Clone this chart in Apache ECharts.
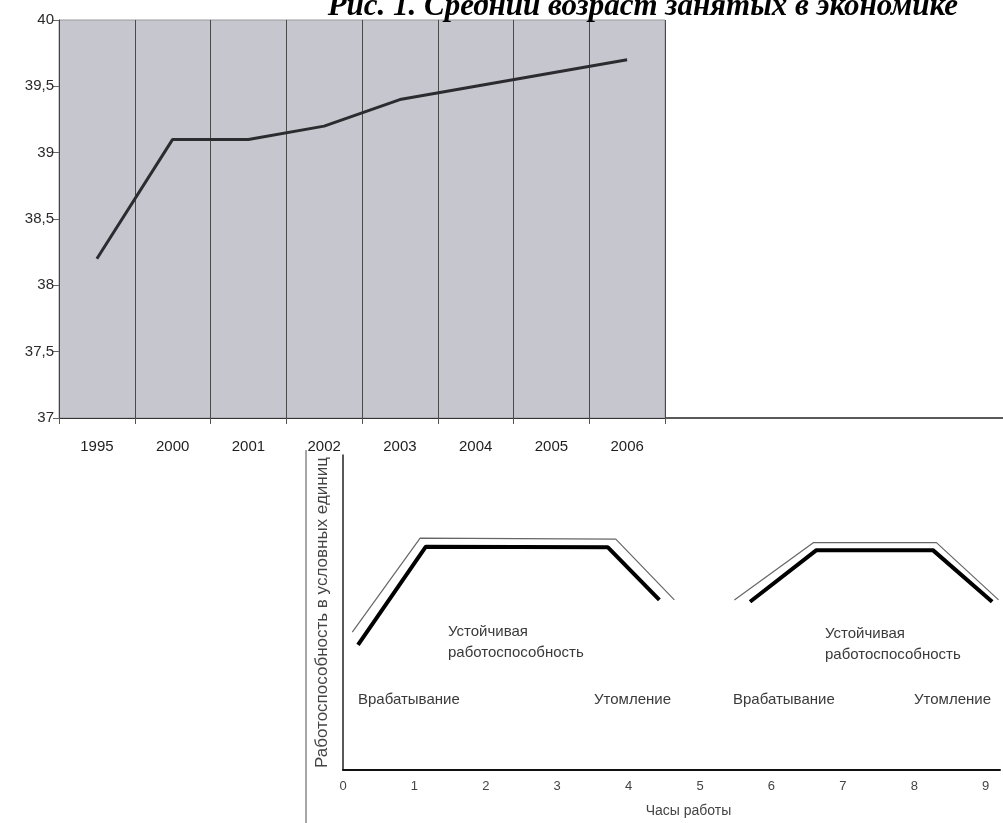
<!DOCTYPE html>
<html><head><meta charset="utf-8">
<script src="https://cdn.jsdelivr.net/npm/echarts@6/dist/echarts.min.js"></script>
<style>html,body{margin:0;padding:0;background:#fff}#c{width:1003px;height:823px}</style>
</head><body><div id="c"></div>
<script>
// ---- data ----
const years = ['1995','2000','2001','2002','2003','2004','2005','2006'];
const avgAge = [38.2, 39.1, 39.1, 39.2, 39.4, 39.5, 39.6, 39.7];
const hourTicks = [0,1,2,3,4,5,6,7,8,9];
const curve1Main   = [[0.21,3.97],[1.16,7.09],[3.71,7.07],[4.43,5.40]];
const curve1Shadow = [[0.13,4.38],[1.08,7.36],[3.82,7.33],[4.64,5.40]];
const curve2Main   = [[5.70,5.34],[6.63,6.98],[8.26,6.98],[9.09,5.34]];
const curve2Shadow = [[5.48,5.40],[6.59,7.22],[8.31,7.22],[9.18,5.40]];
const titleText = 'Рис. 1. Средний возраст занятых в экономике';
const txtStable1 = 'Устойчивая';
const txtStable2 = 'работоспособность';
const txtWarm = 'Врабатывание';
const txtFatigue = 'Утомление';
const yName = 'Работоспособность в условных единиц';
const xName = 'Часы работы';

const chart = echarts.init(document.getElementById('c'));
const sans = '"Liberation Sans", Arial, sans-serif';
const annStyle = {fontFamily: sans, fontSize: 15, fill: '#3a3a3a'};
function ann(text, x, y) {
  return {type: 'text', left: x, top: y, style: Object.assign({text: text}, annStyle), z: 10};
}
chart.setOption({
  backgroundColor: '#fff',
  animation: false,
  grid: [
    {left: 59, top: 20, width: 606, height: 398, show: true, backgroundColor: '#c6c6ce', borderColor: '#9a9aa0', borderWidth: 1},
    {left: 343, top: 455, width: 660, height: 315}
  ],
  xAxis: [
    {gridIndex: 0, type: 'category', data: years, boundaryGap: true,
     axisLine: {lineStyle: {color: '#333', width: 1}},
     axisTick: {show: true, length: 6, lineStyle: {color: '#555'}},
     axisLabel: {color: '#1e1e1e', fontFamily: sans, fontSize: 15, margin: 21},
     splitLine: {show: true, interval: 0, lineStyle: {color: '#4a4a4a', width: 1}}},
    {gridIndex: 1, type: 'value', min: 0, max: 9.2, interval: 1,
     axisLine: {lineStyle: {color: '#111', width: 2}},
     axisTick: {show: false},
     axisLabel: {color: '#444', fontFamily: sans, fontSize: 13, margin: 10,
       formatter: v => hourTicks.indexOf(v) >= 0 ? String(v) : ''},
     splitLine: {show: false},
     name: xName, nameLocation: 'middle', nameGap: 34,
     nameTextStyle: {color: '#444', fontFamily: sans, fontSize: 14, padding: [0, 0, 0, 34]}}
  ],
  yAxis: [
    {gridIndex: 0, type: 'value', min: 37, max: 40, interval: 0.5,
     axisLine: {show: true, lineStyle: {color: '#444', width: 1}},
     axisTick: {show: true, length: 6, lineStyle: {color: '#666'}},
     axisLabel: {color: '#2a2a2a', fontFamily: sans, fontSize: 15, margin: 5,
       formatter: v => String(v).replace('.', ',')},
     splitLine: {show: false}},
    {gridIndex: 1, type: 'value', min: 0, max: 10,
     axisLine: {show: true, onZero: false, lineStyle: {color: '#222', width: 1.5}},
     axisTick: {show: false}, axisLabel: {show: false}, splitLine: {show: false},
     name: yName, nameLocation: 'middle', nameRotate: 90, nameGap: 12,
     nameTextStyle: {color: '#444', fontFamily: sans, fontSize: 17}}
  ],
  series: [
    {type: 'line', xAxisIndex: 0, yAxisIndex: 0, data: avgAge, symbol: 'none',
     lineStyle: {color: '#2b2b30', width: 3}},
    {type: 'line', xAxisIndex: 1, yAxisIndex: 1, data: curve1Shadow, symbol: 'none',
     lineStyle: {color: '#666', width: 1.2}},
    {type: 'line', xAxisIndex: 1, yAxisIndex: 1, data: curve1Main, symbol: 'none',
     lineStyle: {color: '#000', width: 4}},
    {type: 'line', xAxisIndex: 1, yAxisIndex: 1, data: curve2Shadow, symbol: 'none',
     lineStyle: {color: '#666', width: 1.2}},
    {type: 'line', xAxisIndex: 1, yAxisIndex: 1, data: curve2Main, symbol: 'none',
     lineStyle: {color: '#000', width: 4}}
  ],
  graphic: [
    {type: 'text', right: 45, top: -9, z: 10,
     style: {text: titleText, font: 'italic bold 31px "Liberation Serif", "Times New Roman", serif', fill: '#000'}},
    {type: 'line', shape: {x1: 666, y1: 418, x2: 1003, y2: 418}, style: {stroke: '#222', lineWidth: 1.5}},
    {type: 'line', shape: {x1: 306, y1: 450, x2: 306, y2: 823}, style: {stroke: '#888', lineWidth: 1.5}},
    ann(txtStable1, 448, 624), ann(txtStable2, 448, 645),
    ann(txtWarm, 358, 692), ann(txtFatigue, 594, 692),
    ann(txtWarm, 733, 692),
    ann(txtStable1, 825, 626), ann(txtStable2, 825, 647),
    ann(txtFatigue, 914, 692)
  ]
});
</script></body></html>
